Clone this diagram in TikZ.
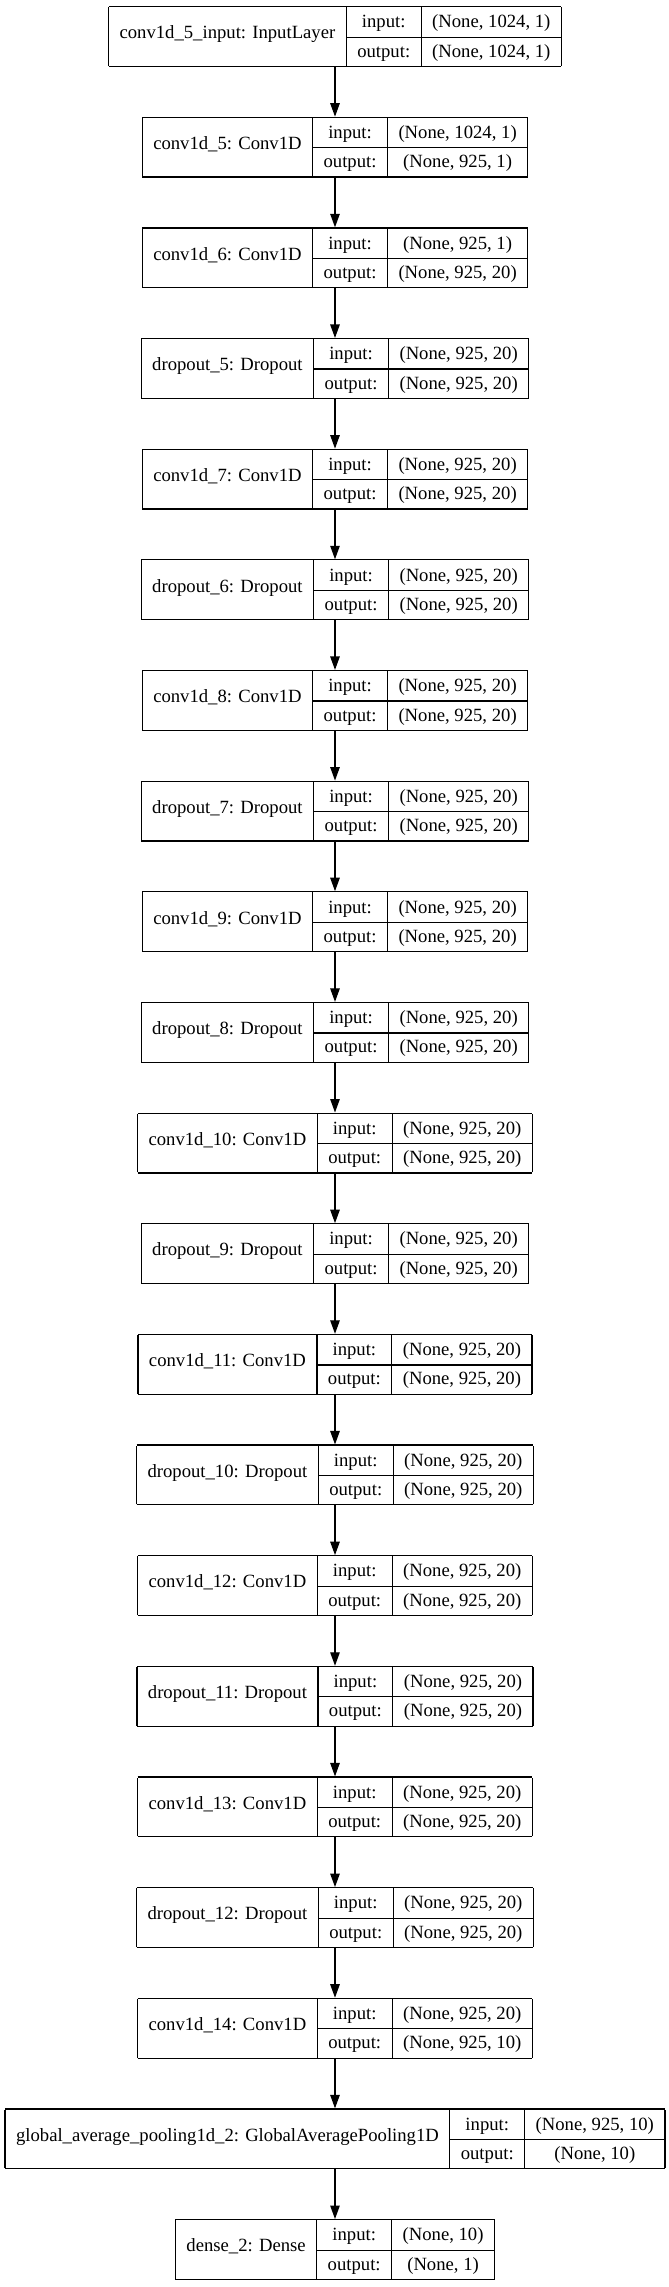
\documentclass[tikz,border=0pt]{standalone}
\usepackage{fontspec}
\setmainfont{Liberation Serif}
\usepackage{multirow}
\usetikzlibrary{arrows.meta, positioning}
\setlength\tabcolsep{11pt}
\setlength\arrayrulewidth{1.2pt}
\newcommand\lyrfont{\fontsize{18.67}{22}\selectfont}
\newcommand\rowstrut{\rule[-8.7pt]{0pt}{29.3pt}}
\newcommand\lyrtab[3]{\begin{tabular}{|c|c|c|}\hline
  \multirow{2}{*}{#1} & input:\rowstrut & #2\\\cline{2-3}
  & output:\rowstrut & #3\\\hline\end{tabular}}

\begin{document}
\begin{tikzpicture}[x=1pt,y=1pt,->,>={Triangle[length=13.5pt,width=9.5pt]},line width=1.2pt,
    font=\lyrfont,
    rec/.style={inner sep=0pt,outer sep=0pt}]
  \useasboundingbox (0,0) rectangle (669,-2287);
  \foreach \nm/\txt/\ishape/\oshape [count=\i from 0,remember=\nm as \prv (initially in0)] in {
      in0/{conv1d\_5\_input: InputLayer}/{(None, 1024, 1)}/{(None, 1024, 1)},
      c5/{conv1d\_5: Conv1D}/{(None, 1024, 1)}/{(None, 925, 1)},
      c6/{conv1d\_6: Conv1D}/{(None, 925, 1)}/{(None, 925, 20)},
      d5/{dropout\_5: Dropout}/{(None, 925, 20)}/{(None, 925, 20)},
      c7/{conv1d\_7: Conv1D}/{(None, 925, 20)}/{(None, 925, 20)},
      d6/{dropout\_6: Dropout}/{(None, 925, 20)}/{(None, 925, 20)},
      c8/{conv1d\_8: Conv1D}/{(None, 925, 20)}/{(None, 925, 20)},
      d7/{dropout\_7: Dropout}/{(None, 925, 20)}/{(None, 925, 20)},
      c9/{conv1d\_9: Conv1D}/{(None, 925, 20)}/{(None, 925, 20)},
      d8/{dropout\_8: Dropout}/{(None, 925, 20)}/{(None, 925, 20)},
      c10/{conv1d\_10: Conv1D}/{(None, 925, 20)}/{(None, 925, 20)},
      d9/{dropout\_9: Dropout}/{(None, 925, 20)}/{(None, 925, 20)},
      c11/{conv1d\_11: Conv1D}/{(None, 925, 20)}/{(None, 925, 20)},
      d10/{dropout\_10: Dropout}/{(None, 925, 20)}/{(None, 925, 20)},
      c12/{conv1d\_12: Conv1D}/{(None, 925, 20)}/{(None, 925, 20)},
      d11/{dropout\_11: Dropout}/{(None, 925, 20)}/{(None, 925, 20)},
      c13/{conv1d\_13: Conv1D}/{(None, 925, 20)}/{(None, 925, 20)},
      d12/{dropout\_12: Dropout}/{(None, 925, 20)}/{(None, 925, 20)},
      c14/{conv1d\_14: Conv1D}/{(None, 925, 20)}/{(None, 925, 10)},
      gap/{global\_average\_pooling1d\_2: GlobalAveragePooling1D}/{(None, 925, 10)}/{(None, 10)},
      dn/{dense\_2: Dense}/{(None, 10)}/{(None, 1)}}{
    \pgfmathsetmacro\yc{-36.5-110.65*\i}
    \node[rec] (\nm) at (335,\yc) {\lyrtab{\txt}{\ishape}{\oshape}};
    \ifnum\i>0 \draw (\prv.south) -- (\nm.north); \fi
  }
\end{tikzpicture}
\end{document}
